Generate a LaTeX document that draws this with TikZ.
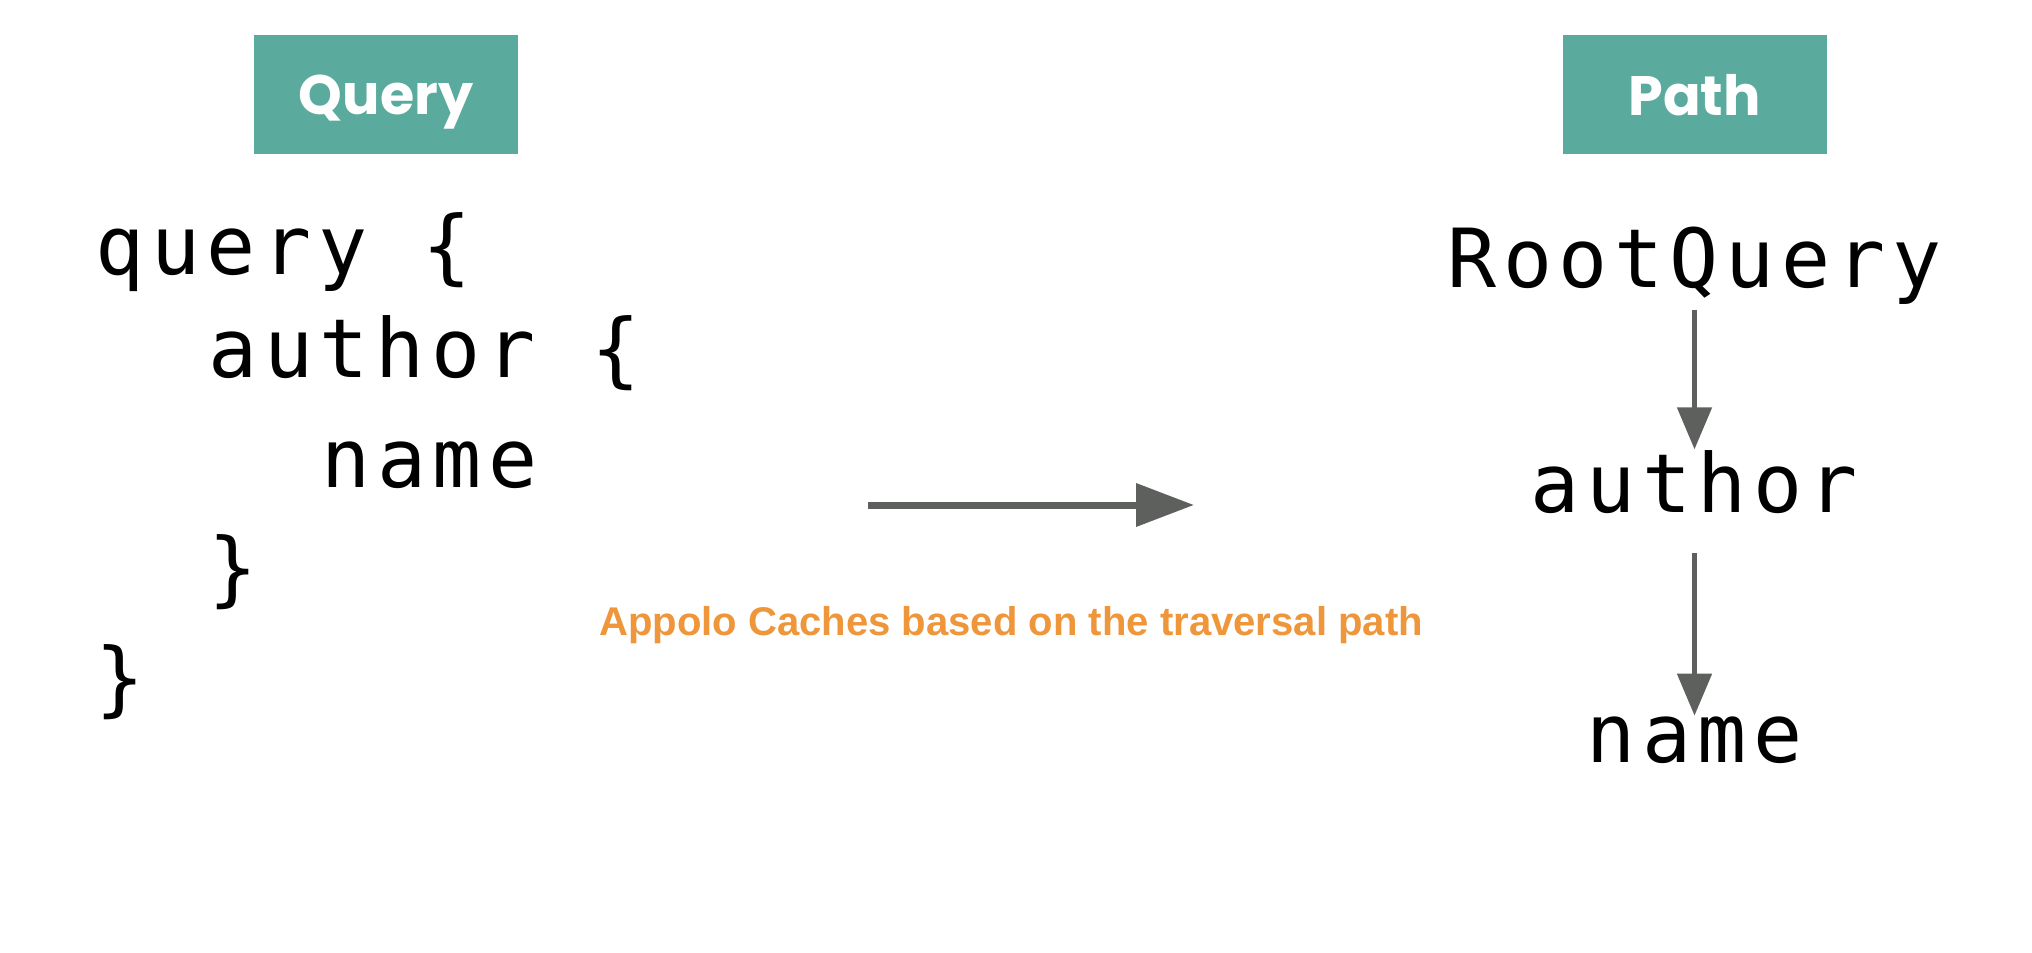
\documentclass[tikz,border=0pt]{standalone}
\usepackage{fontspec}
\setsansfont{Liberation Sans}
\newfontfamily\headfont{Poppins}
\newfontfamily\codefont{DejaVu Sans Mono}[LetterSpace=8]
\usepackage{tikz}
\usetikzlibrary{positioning, arrows.meta}
\definecolor{boxteal}{HTML}{5AAB9E}
\definecolor{noteorange}{HTML}{F0963A}
\definecolor{arrowgrey}{HTML}{5E605E}
\tikzset{head/.style = {fill=boxteal,text=white,minimum width=2.64cm,minimum height=1.19cm,inner sep=0,text depth=0pt,font=\headfont\bfseries\fontsize{15.8}{19}\selectfont}}
\tikzset{code/.style = {inner sep=0,anchor=base west,font=\codefont\fontsize{23.2}{28}\selectfont}}
\tikzset{step node/.style = {inner sep=0,anchor=base,font=\codefont\fontsize{23.2}{28}\selectfont}}
\tikzset{flow/.style = {draw=arrowgrey,line width=0.05cm,-{Triangle[length=0.42cm,width=0.34cm]}}}

\begin{document}
\begin{tikzpicture}
            \useasboundingbox (0,0) rectangle (20.32,9.52);
            \fill[white] (0,0) rectangle (20.32,9.52);

            \node[head] (QH) at (3.86,8.575) {Query};
            \node[head] (PH) at (16.945,8.575) {Path};

            \node[code] (Q1) at (0.95,6.77) {query \{};
            \node[code] (Q2) at (2.08,5.74) {author \{};
            \node[code] (Q3) at (3.21,4.65) {name};
            \node[code] (Q4) at (2.08,3.56) {\}};
            \node[code] (Q5) at (0.95,2.46) {\}};

            \node[step node] (R) at (16.945,6.64) {RootQuery};
            \node[step node] (A) at (16.945,4.40) {author};
            \node[step node] (N) at (16.945,1.90) {name};

            \draw[flow, shorten <=0.04cm] (R.south) -- (A.north);
            \draw[flow, shorten <=0.39cm] (A.south) -- (N.north);

            \coordinate (S) at (8.68,4.47);
            \coordinate (T) at (11.94,4.47);
            \draw[draw=arrowgrey,line width=0.07cm,-{Triangle[length=0.58cm,width=0.42cm]}] (S) -- (T);

            \node[inner sep=0,anchor=base,text=noteorange,font=\sffamily\bfseries\fontsize{11.4}{14}\selectfont] (C) at (10.11,3.17) {Appolo Caches based on the traversal path};
        \end{tikzpicture}
\end{document}
